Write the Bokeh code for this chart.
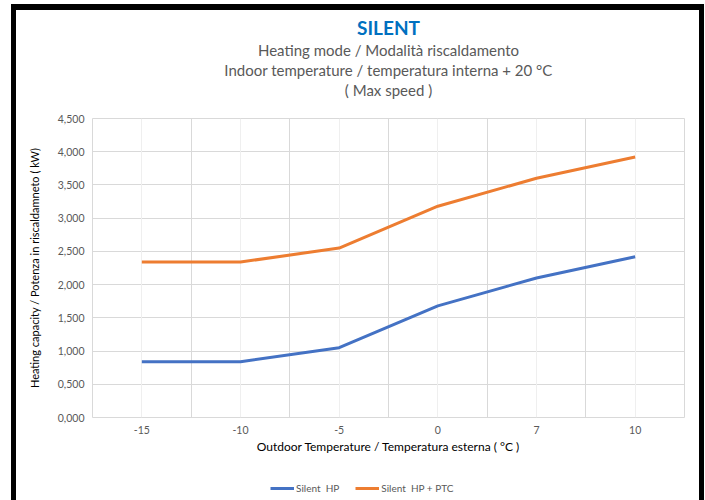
import numpy as np
from bokeh.plotting import figure
from bokeh.layouts import column
from bokeh.models import (Title, Legend, LegendItem, FixedTicker, Grid, CustomJSTickFormatter,
                          Range1d, ColumnDataSource)
from bokeh.embed import file_html
from bokeh.resources import INLINE

categories = ["-15", "-10", "-5", "0", "7", "10"]
series_names = ["Silent  HP", "Silent  HP + PTC"]
hp = [0.84, 0.84, 1.05, 1.68, 2.10, 2.42]
hp_ptc = [2.34, 2.34, 2.55, 3.18, 3.60, 3.92]
y_ticks = [0.0, 0.5, 1.0, 1.5, 2.0, 2.5, 3.0, 3.5, 4.0, 4.5]
colors = ["#4472C4", "#ED7D31"]

FONT = "Lato"
xpos = list(np.arange(len(categories)) + 0.5)
src = ColumnDataSource(dict(x=xpos, hp=hp, hp_ptc=hp_ptc))

p = figure(frame_width=592, frame_height=299, output_backend="svg", toolbar_location=None,
           x_range=Range1d(0, len(categories)), y_range=Range1d(0, 4.5),
           min_border_left=76, min_border_right=15, min_border_top=108, min_border_bottom=0,
           title=None)
p.outline_line_color = "#D9D9D9"
p.background_fill_color = "white"
p.border_fill_color = "white"

# grids
p.xgrid.ticker = FixedTicker(ticks=list(range(len(categories) + 1)))
p.xgrid.grid_line_color = "#D9D9D9"
p.ygrid.ticker = FixedTicker(ticks=y_ticks)
p.ygrid.grid_line_color = "#D9D9D9"
minor = Grid(dimension=0, ticker=FixedTicker(ticks=xpos), grid_line_color="#EFEFEF")
p.add_layout(minor)

# axes
p.xaxis.ticker = FixedTicker(ticks=xpos)
p.xaxis.major_label_overrides = {float(x): c for x, c in zip(xpos, categories)}
p.yaxis.ticker = FixedTicker(ticks=y_ticks)
p.yaxis.formatter = CustomJSTickFormatter(code="return tick.toFixed(3).replace('.', ',');")
for ax in (p.xaxis[0], p.yaxis[0]):
    ax.axis_line_color = None
    ax.major_tick_line_color = None
    ax.minor_tick_line_color = None
    ax.major_tick_out = 0
    ax.major_tick_in = 0
    ax.minor_tick_out = 0
    ax.minor_tick_in = 0
    ax.major_label_text_font = FONT
    ax.major_label_text_font_size = "10.5px"
    ax.major_label_text_color = "#595959"
    ax.axis_label_text_font = FONT
    ax.axis_label_text_font_style = "normal"
    ax.axis_label_text_color = "#000000"
p.xaxis.axis_label = "Outdoor Temperature / Temperatura esterna ( °C )"
p.yaxis.axis_label = "Heating capacity / Potenza in riscaldamneto ( kW)"
p.xaxis.axis_label_text_font_size = "12px"
p.yaxis.axis_label_text_font_size = "11px"
p.xaxis.major_label_standoff = 8
p.yaxis.major_label_standoff = 8
p.yaxis.axis_label_standoff = 14
p.xaxis.axis_label_standoff = 2

p.line("x", "hp", source=src, line_color=colors[0], line_width=3)
p.line("x", "hp_ptc", source=src, line_color=colors[1], line_width=3)

# titles (first added is closest to the plot)
p.add_layout(Title(text="x", text_font=FONT, text_font_size="8px", text_color="white",
                   standoff=8, text_line_height=0.9), "above")
for txt, size, color, style in [("( Max speed )", "15px", "#595959", "normal"),
                                ("Indoor temperature / temperatura interna + 20 °C", "15px", "#595959", "normal"),
                                ("Heating mode / Modalità riscaldamento", "15px", "#595959", "normal"),
                                ("SILENT", "19px", "#0070C0", "bold")]:
    p.add_layout(Title(text=txt, align="center", text_font=FONT, text_font_size=size,
                       text_color=color, text_font_style=style, standoff=0,
                       text_line_height=0.9), "above")

# legend strip
lg = figure(width=683, height=45, output_backend="svg", toolbar_location=None,
            x_range=Range1d(0, 1), y_range=Range1d(0, 1), min_border=0,
            x_axis_location=None, y_axis_location=None, title=None)
lg.grid.visible = False
lg.outline_line_color = None
lg.border_fill_color = "white"
items = []
for name, key, c in zip(series_names, ["hp", "hp_ptc"], colors):
    r = lg.line("x", key, source=src, line_color=c, line_width=3)
    r.visible = False
    items.append(LegendItem(label=name, renderers=[r]))
legend = Legend(items=items, orientation="horizontal", location=(178, 7),
                label_text_font=FONT, label_text_font_size="10px", label_text_color="#595959",
                glyph_width=24, glyph_height=10, spacing=16, label_standoff=2,
                border_line_color=None, background_fill_alpha=0, padding=4, margin=0,
                inactive_fill_alpha=0)
lg.add_layout(legend)

layout = column(p, lg, spacing=0)
layout.styles = {"margin-top": "4px", "margin-left": "11px",
                 "border-left": "5px solid black", "border-right": "5px solid black",
                 "border-top": "6px solid black"}

open("out.html", "w").write(file_html(layout, INLINE))
